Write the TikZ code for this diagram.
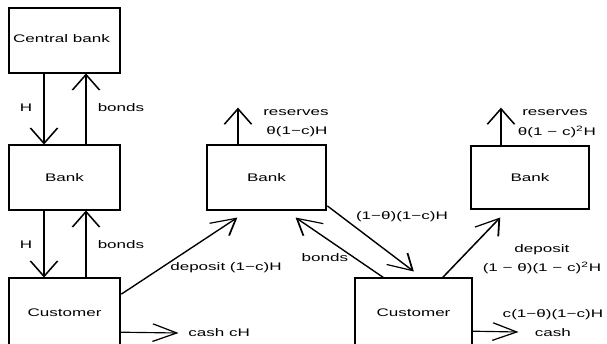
\documentclass[tikz,border=0pt]{standalone}
\usepackage{fontspec}
\setmainfont{Liberation Sans}
\pgfarrowsdeclare{bigvee}{bigvee}
{\pgfarrowsleftextend{-15.5pt}\pgfarrowsrightextend{0.8pt}}
{\pgfsetdash{}{0pt}\pgfsetmiterjoin
 \pgfpathmoveto{\pgfpoint{-15.5pt}{8.8pt}}
 \pgfpathlineto{\pgfpointorigin}
 \pgfpathlineto{\pgfpoint{-15.5pt}{-8.8pt}}
 \pgfusepathqstroke}
\tikzset{
  box/.style={draw, line width=1.6pt, inner sep=0pt, align=center},
  arr/.style={line width=1.15pt, -bigvee},
  lbl/.style={inner sep=0pt, align=center},
}
\begin{document}
\begin{tikzpicture}[x=1pt,y=-1pt, every node/.style={font=\fontsize{11pt}{13pt}\selectfont}]
\useasboundingbox (0,0) rectangle (607,343);
\begin{scope}[transform canvas={xscale=1.55}, x={1pt/1.55}]
\begin{scope}
\clip (0,0) rectangle (607,343);
\node[box, minimum width={111pt/1.55}, minimum height=65pt] (cb) at (64.5,40.5) {};
\node[lbl] (cbt) at (61.5,39) {Central bank};
\node[box, minimum width={111pt/1.55}, minimum height=65pt] (b1) at (64.5,177.5) {Bank};
\node[box, minimum width={111pt/1.55}, minimum height=70pt] (c1) at (64.5,313) {Customer};
\node[box, minimum width={119pt/1.55}, minimum height=65pt] (b2) at (266.5,177.5) {Bank};
\node[box, minimum width={118pt/1.55}, minimum height=63pt] (b3) at (530,177.5) {Bank};
\node[box, minimum width={117pt/1.55}, minimum height=70pt] (c2) at (413.5,313) {Customer};
\end{scope}

\coordinate (cash1) at (178,333);
\coordinate (res2) at (238,108);
\coordinate (res3) at (501,108);
\coordinate (cash2) at (518,332);

% left column
\draw[arr] ([xshift={-20.5pt/1.55}]cb.south) -- ([xshift={-20.5pt/1.55}]b1.north);
\draw[arr] ([xshift={21.5pt/1.55}]b1.north) -- ([xshift={21.5pt/1.55}]cb.south);
\draw[arr] ([xshift={-20.5pt/1.55}]b1.south) -- ([xshift={-20.5pt/1.55}]c1.north);
\draw[arr] ([xshift={21.5pt/1.55}]c1.north) -- ([xshift={21.5pt/1.55}]b1.south);
\node[lbl] (h1) at (26,108) {H};
\node[lbl] (bo1) at (121,108) {bonds};
\node[lbl] (h2) at (26,245) {H};
\node[lbl] (bo2) at (121,245) {bonds};

% customer 1
\draw[arr] ([yshift=-17pt]c1.north east) -- ([xshift={-29.5pt/1.55},yshift=-7pt]b2.south);
\node[lbl] (dep1) at (226,268) {deposit (1−c)H};
\draw[arr] ([yshift=-55pt]c1.north east) -- (cash1);
\node[lbl, anchor=west] (cashl1) at (188,333) {cash cH};

% bank 2
\draw[arr] ([xshift={-28.5pt/1.55}]b2.north) -- (res2);
\node[lbl] (resl2) at (296,113) {reserves};
\node[lbl] (resv2) at (297,132) {θ(1−c)H};
\draw[arr] ([yshift=5pt]b2.south east) -- ([yshift=6pt]c2.north);
\node[lbl] (loan2) at (402,217) {(1−θ)(1−c)H};
\draw[arr] ([xshift={-30.5pt/1.55}]c2.north) -- ([xshift={29.5pt/1.55},yshift=-7pt]b2.south);
\node[lbl] (bo3) at (325,258) {bonds};

% bank 3 / customer 2
\draw[arr] ([xshift={-29pt/1.55}]b3.north) -- (res3);
\node[lbl] (resl3) at (555,113) {reserves};
\node[lbl] (resv3) at (557,132) {θ(1 − c)\textsuperscript{2}H};
\draw[arr] ([xshift={29.5pt/1.55}]c2.north) -- ([xshift={-30pt/1.55},yshift=-8pt]b3.south);
\node[lbl] (depl3) at (542,250) {deposit};
\node[lbl] (depv3) at (542,268) {(1 − θ)(1 − c)\textsuperscript{2}H};
\draw[arr] ([yshift=-54pt]c2.north east) -- (cash2);
\node[lbl] (cashv2) at (553,315) {c(1−θ)(1−c)H};
\node[lbl] (cashl2) at (553,333) {cash};
\end{scope}
\end{tikzpicture}
\end{document}
